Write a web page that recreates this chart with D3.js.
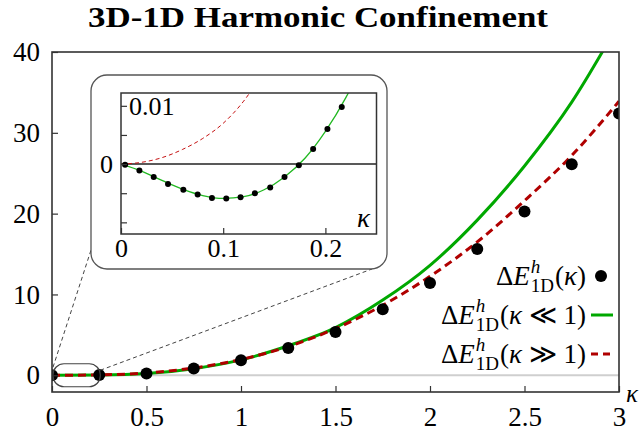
<!DOCTYPE html>
<html><head><meta charset="utf-8">
<script src="https://cdn.jsdelivr.net/npm/d3@7"></script>
</head><body style="margin:0;background:#fff">
<svg id="c" width="643" height="432" style="display:block"></svg>
<script>
// ---------- data ----------
const kappa = [0,0.25,0.5,0.75,1,1.25,1.5,1.75,2,2.25,2.5,2.75,3];
const exactVals = [0,0.02,0.21,0.85,1.86,3.38,5.36,8.17,11.43,15.63,20.26,26.1,32.4];
const smallKVals = [0,0.03,0.22,0.82,1.9,3.65,5.9,9.3,13.6,19.2,25.9,33.8,43.6];
const largeKVals = [0,0.05,0.28,0.9,1.95,3.55,5.78,8.66,12.25,16.5,21.6,27.2,33.9];

const insetDotK = [0.004,0.018,0.032,0.046,0.061,0.075,0.089,0.103,0.117,0.131,0.146,0.160,0.174,0.188,0.202,0.216];
const insetDotVals = [-0.0001,-0.0011,-0.0022,-0.0034,-0.0044,-0.0052,-0.0058,-0.0059,-0.0057,-0.0050,-0.0040,-0.0022,-0.0002,0.0026,0.0060,0.0098];
const insetSmallK = [0,0.02,0.04,0.06,0.08,0.10,0.12,0.14,0.16,0.18,0.20,0.22,0.24];
const insetSmallVals = [0,-0.0012,-0.0028,-0.0043,-0.0054,-0.0059,-0.0056,-0.0044,-0.0022,0.0010,0.0056,0.0114,0.0185];
const insetLargeK = [0,0.02,0.04,0.06,0.08,0.10,0.12,0.14];
const insetLargeVals = [0,0.0003,0.0011,0.0025,0.0044,0.0070,0.0108,0.0160];

const xTicks = [0,0.5,1,1.5,2,2.5,3];
const xTickLabels = ["0","0.5","1","1.5","2","2.5","3"];
const yTicks = [0,10,20,30,40];
const yTickLabels = ["0","10","20","30","40"];
const insetXTicks = [0,0.1,0.2];
const insetXTickLabels = ["0","0.1","0.2"];
const insetYTicks = [-0.01,-0.005,0,0.005,0.01];
const insetYTickLabels = ["","","0","","0.01"];
const title = "3D-1D Harmonic Confinement";
const legendSuffixes = ["(κ)", "(κ ≪ 1)", "(κ ≫ 1)"];

// ---------- setup ----------
const SERIF = "serif";
const svg = d3.select("#c");
const GREEN = "#00a800", RED = "#b00000", FRAME = "#333";
const x = d3.scaleLinear([0,3],[52,619]);
const y = d3.scaleLinear([-2.07,40],[392,52]);
const xi = d3.scaleLinear([0,0.25],[121,376.5]);
const yi = d3.scaleLinear([-0.012,0.0122],[234,93]);

function T(sel){ return sel.append("text").attr("font-family",SERIF); }

const defs = svg.append("defs");
defs.append("clipPath").attr("id","mainClip").append("rect")
  .attr("x",x(0)).attr("y",y(40)).attr("width",x(3)-x(0)).attr("height",y(-2.07)-y(40));
defs.append("clipPath").attr("id","insetClip").append("rect")
  .attr("x",xi(0)).attr("y",yi(0.0122)).attr("width",xi(0.25)-xi(0)).attr("height",yi(-0.012)-yi(0.0122));

// title
T(svg).attr("x",318).attr("y",27).attr("text-anchor","middle")
  .attr("font-weight","bold").attr("font-size",29)
  .attr("textLength",460).attr("lengthAdjust","spacingAndGlyphs").text(title);

// zero line
svg.append("line").attr("x1",x(0)).attr("x2",x(3)).attr("y1",y(0)).attr("y2",y(0))
  .attr("stroke","#cfcfcf").attr("stroke-width",2);

const main = svg.append("g").attr("clip-path","url(#mainClip)");
const line = d3.line().x(d=>x(d[0])).y(d=>y(d[1])).curve(d3.curveMonotoneX);
main.append("path").attr("d",line(d3.zip(kappa,smallKVals))).attr("fill","none")
  .attr("stroke",GREEN).attr("stroke-width",3);
main.append("path").attr("d",line(d3.zip(kappa,largeKVals))).attr("fill","none")
  .attr("stroke",RED).attr("stroke-width",3).attr("stroke-dasharray","8,5");

const box = {x0:91, x1:387, y0:75, y1:269};

svg.append("line").attr("x1",x(0)+1).attr("y1",y(0)-8).attr("x2",box.x0+1).attr("y2",box.y1-22)
  .attr("stroke","#444").attr("stroke-width",1).attr("stroke-dasharray","4,3");
svg.append("line").attr("x1",x(0.25)+1).attr("y1",y(0)-5).attr("x2",box.x1-15).attr("y2",box.y1)
  .attr("stroke","#444").attr("stroke-width",1).attr("stroke-dasharray","4,3");

svg.append("rect").attr("x",x(0)+1).attr("y",y(0)-11.5).attr("width",x(0.25)-x(0)).attr("height",23)
  .attr("rx",11).attr("fill","none").attr("stroke","#444").attr("stroke-width",1.2);

main.selectAll("circle.d").data(d3.zip(kappa,exactVals)).join("circle")
  .attr("cx",d=>x(d[0])).attr("cy",d=>y(d[1])).attr("r",6).attr("fill","#000");

const yAxis = d3.axisLeft(y).tickValues(yTicks).tickFormat((d,i)=>yTickLabels[i]).tickSize(-6).tickPadding(12);
const gy = svg.append("g").attr("transform",`translate(${x(0)},0)`).call(yAxis);
const xAxis = d3.axisBottom(x).tickValues(xTicks).tickFormat((d,i)=>xTickLabels[i]).tickSize(-6).tickPadding(15);
const gx = svg.append("g").attr("transform",`translate(0,${y(-2.07)})`).call(xAxis);
[gx,gy].forEach(g=>{
  g.attr("font-family",SERIF).attr("font-size",27);
  g.select(".domain").remove();
  g.selectAll("line").attr("stroke",FRAME).attr("stroke-width",1.2);
  g.selectAll("text").attr("font-family",SERIF).attr("font-size",27).attr("fill","#000");
});
svg.append("rect").attr("x",x(0)).attr("y",y(40)).attr("width",x(3)-x(0)).attr("height",y(-2.07)-y(40))
  .attr("fill","none").attr("stroke",FRAME).attr("stroke-width",1.6);
T(svg).attr("x",626).attr("y",402).attr("font-style","italic").attr("font-size",25).text("κ");

// ---------- inset ----------
svg.append("rect").attr("x",box.x0).attr("y",box.y0).attr("width",box.x1-box.x0).attr("height",box.y1-box.y0)
  .attr("rx",16).attr("fill","#fff").attr("stroke","#555").attr("stroke-width",1.3);
svg.append("line").attr("x1",xi(0)).attr("x2",xi(0.25)).attr("y1",yi(0)).attr("y2",yi(0))
  .attr("stroke","#222").attr("stroke-width",1.5);
const ins = svg.append("g").attr("clip-path","url(#insetClip)");
const lineI = d3.line().x(d=>xi(d[0])).y(d=>yi(d[1])).curve(d3.curveMonotoneX);
ins.append("path").attr("d",lineI(d3.zip(insetLargeK,insetLargeVals))).attr("fill","none")
  .attr("stroke","#c41010").attr("stroke-width",1).attr("stroke-dasharray","4,3");
ins.append("path").attr("d",lineI(d3.zip(insetSmallK,insetSmallVals))).attr("fill","none")
  .attr("stroke","#22b822").attr("stroke-width",1.3);
ins.selectAll("circle").data(d3.zip(insetDotK,insetDotVals)).join("circle")
  .attr("cx",d=>xi(d[0])).attr("cy",d=>yi(d[1])).attr("r",3).attr("fill","#000");

const yAxisI = d3.axisLeft(yi).tickValues(insetYTicks).tickFormat((d,i)=>insetYTickLabels[i]).tickSize(-6).tickPadding(8);
const gyi = svg.append("g").attr("transform",`translate(${xi(0)},0)`).call(yAxisI);
const xAxisI = d3.axisBottom(xi).tickValues(insetXTicks).tickFormat((d,i)=>insetXTickLabels[i]).tickSize(-6).tickPadding(5);
const gxi = svg.append("g").attr("transform",`translate(0,${yi(-0.012)})`).call(xAxisI);
[gxi,gyi].forEach(g=>{
  g.attr("font-family",SERIF).attr("font-size",26);
  g.select(".domain").remove();
  g.selectAll("line").attr("stroke",FRAME).attr("stroke-width",1.2);
  g.selectAll("text").attr("font-family",SERIF).attr("font-size",26).attr("fill","#000");
});
gyi.selectAll(".tick").filter(d=>d===0.01).select("text").attr("text-anchor","start").attr("x",8);
svg.append("rect").attr("x",xi(0)).attr("y",yi(0.0122)).attr("width",xi(0.25)-xi(0)).attr("height",yi(-0.012)-yi(0.0122))
  .attr("fill","none").attr("stroke",FRAME).attr("stroke-width",1.5);
T(svg).attr("x",357).attr("y",227).attr("font-style","italic").attr("font-size",27).text("κ");

// ---------- legend ----------
const FS = 27, SS = 19;
const hW = 0.5 * SS;
function mathLabel(xr, base, suffix){
  const t = T(svg).attr("x",xr).attr("y",base).attr("text-anchor","end").attr("font-size",FS);
  t.append("tspan").text("Δ");
  t.append("tspan").attr("font-style","italic").text("E");
  t.append("tspan").attr("font-style","italic").attr("font-size",SS).attr("dx",1).attr("dy",-12).text("h");
  t.append("tspan").attr("font-size",SS).attr("dx",-hW).attr("dy",19).text("1D");
  const parts = suffix.split(/(κ)/).filter(s=>s.length);
  parts.forEach((p,i)=>{
    const s = t.append("tspan").text(p);
    if(p==="κ") s.attr("font-style","italic");
    if(i===0) s.attr("dy",-7).attr("dx",1);
  });
  return t;
}
const legX = 586, legBase = [285, 324, 363];
mathLabel(legX, legBase[0], legendSuffixes[0]);
mathLabel(legX, legBase[1], legendSuffixes[1]);
mathLabel(legX, legBase[2], legendSuffixes[2]);
svg.append("circle").attr("cx",601).attr("cy",legBase[0]-9).attr("r",6).attr("fill","#000");
svg.append("line").attr("x1",591).attr("x2",613).attr("y1",legBase[1]-9).attr("y2",legBase[1]-9)
  .attr("stroke",GREEN).attr("stroke-width",3);
svg.append("line").attr("x1",591).attr("x2",613).attr("y1",legBase[2]-9).attr("y2",legBase[2]-9)
  .attr("stroke",RED).attr("stroke-width",3).attr("stroke-dasharray","7,5");
</script></body></html>
